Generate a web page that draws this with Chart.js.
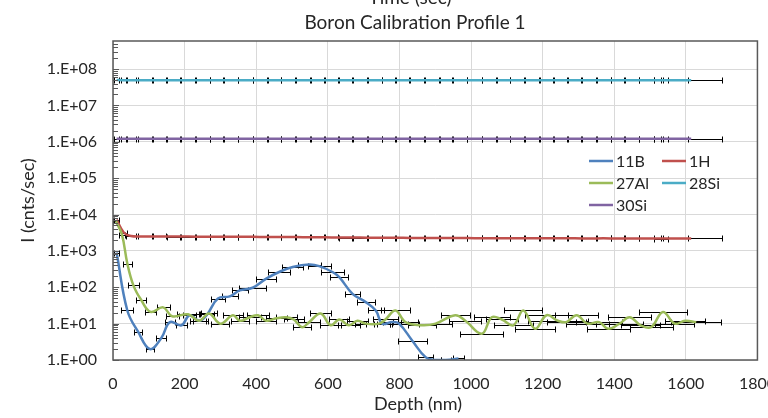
<!DOCTYPE html>
<html lang="en">
<head>
<meta charset="UTF-8">
<title>Boron Calibration Profile 1</title>
<script src="https://cdn.jsdelivr.net/npm/chart.js"></script>
<style>
  html, body { margin: 0; padding: 0; background: white; overflow: hidden; }
  #profileChart { display: block; }
</style>
</head>
<body>
<canvas id="profileChart" width="790" height="418"></canvas>
<script>
// matrix signals (1H, 28Si, 30Si) share one depth grid, nm
const matrixDepth = [10, 30, 50, 90, 130, 170, 210, 250, 290, 330, 370, 410, 450, 490, 530, 570, 610, 650, 690, 730, 770,
                     810, 850, 890, 930, 970, 1010, 1050, 1090, 1130, 1170, 1210, 1250, 1290, 1330, 1370, 1410, 1450, 1490, 1530, 1570, 1615];
const h1 = [7200, 3200, 2550, 2500, 2500, 2480, 2470, 2460, 2450, 2440, 2440, 2420, 2400, 2400, 2380, 2360, 2350, 2330, 2320, 2300, 2300,
            2280, 2270, 2260, 2250, 2250, 2240, 2240, 2230, 2230, 2220, 2220, 2210, 2210, 2200, 2210, 2200, 2200, 2200, 2190, 2200, 2200];
const si28 = [5.0e7, 4.9e7, 4.9e7, 4.9e7, 4.9e7, 4.9e7, 4.9e7, 4.9e7, 4.9e7, 4.9e7, 4.9e7, 4.9e7, 4.9e7, 4.9e7, 4.9e7, 4.9e7, 4.9e7, 4.9e7, 4.9e7, 4.9e7, 4.9e7,
              4.9e7, 4.9e7, 4.9e7, 4.9e7, 4.9e7, 4.9e7, 4.9e7, 4.9e7, 4.9e7, 4.9e7, 4.9e7, 4.9e7, 4.9e7, 4.9e7, 4.9e7, 4.9e7, 4.9e7, 4.9e7, 4.9e7, 4.9e7, 4.9e7];
const si30 = [1.22e6, 1.22e6, 1.22e6, 1.22e6, 1.22e6, 1.22e6, 1.22e6, 1.22e6, 1.22e6, 1.22e6, 1.22e6, 1.22e6, 1.22e6, 1.22e6, 1.22e6, 1.22e6, 1.22e6, 1.22e6, 1.22e6, 1.22e6, 1.22e6,
              1.22e6, 1.22e6, 1.22e6, 1.22e6, 1.22e6, 1.22e6, 1.22e6, 1.22e6, 1.22e6, 1.22e6, 1.22e6, 1.22e6, 1.22e6, 1.22e6, 1.22e6, 1.22e6, 1.22e6, 1.22e6, 1.22e6, 1.22e6, 1.22e6];
// half width of the depth error bars
const matrixErr = [6, 8, 15, 20, 18, 20, 22, 20, 18, 20, 22, 20, 18, 20, 22, 20, 18, 20, 22, 20, 18,
                   20, 22, 20, 18, 20, 22, 20, 18, 20, 22, 20, 18, 20, 22, 20, 18, 20, 22, 20, 35, 85];

// 11B
const b11Depth = [10, 40, 70, 103, 135, 159, 191, 214, 242, 263, 293, 326, 354, 390, 428, 464,
                  502, 548, 576, 613, 632, 669, 706, 734, 752, 780, 799, 836, 873, 900, 930, 965];
const b11 = [900, 23, 6, 2.0, 4, 11, 9, 17, 12, 18, 49, 56, 82, 97, 173, 263,
             360, 420, 380, 263, 190, 66, 39, 23, 10, 11, 10, 3.4, 1.2, 1.0, 1.0, 1.1];
const b11Err = [8, 17, 12, 12, 14, 14, 16, 18, 18, 20, 20, 22, 22, 38, 28, 30,
                30, 32, 32, 32, 25, 20, 25, 22, 22, 25, 25, 40, 20, 15, 15, 15];

// 27Al
const al27Depth = [8, 25, 40, 57, 78, 105, 140, 165, 210, 240, 268, 300, 335, 354, 382, 405, 428, 456, 484, 505,
                   528, 548, 580, 608, 632, 659, 683, 706, 743, 761, 789, 817, 863, 901, 956, 984, 1030, 1058, 1086, 1118,
                   1146, 1179, 1211, 1243, 1266, 1295, 1325, 1358, 1383, 1415, 1443, 1474, 1503, 1536, 1569, 1598, 1629];
const al27 = [6500, 2800, 450, 113, 46, 21, 28, 16, 18, 12, 19, 10, 17, 12, 15, 17, 12, 14, 15, 13,
              8, 11, 19, 9, 13, 9, 12, 10, 10, 13, 23, 11, 9, 10, 17, 12, 5.3, 15, 13, 9,
              23, 7.2, 17, 12, 11, 17, 10, 11, 7.2, 10, 15, 9, 8, 21, 10, 12, 11];
const al27Err = [8, 8, 12, 15, 15, 15, 18, 18, 30, 25, 22, 25, 28, 25, 30, 30, 28, 30, 30, 28,
                 25, 30, 30, 30, 28, 30, 30, 30, 35, 35, 40, 35, 40, 45, 40, 45, 60, 50, 45, 55,
                 53, 55, 60, 85, 55, 60, 60, 65, 60, 65, 60, 55, 60, 66, 55, 55, 70];

const decadeTicks = [1, 10, 100, 1e3, 1e4, 1e5, 1e6, 1e7, 1e8];
const legendRows = [['11B', '1H'], ['27Al', '28Si'], ['30Si']];

const textColor = '#262626';
const axisColor = '#595959';
Chart.defaults.font.family = 'Lato';
Chart.defaults.color = textColor;

function toPoints(xs, ys) {
    return xs.map((x, i) => ({ x: x, y: ys[i] }));
}

function series(label, color, xs, ys, err, order) {
    return {
        label: label,
        data: toPoints(xs, ys),
        xErr: err,
        borderColor: color,
        backgroundColor: color,
        borderWidth: 2.5,
        pointRadius: 0,
        tension: 0.4,
        order: order
    };
}

// error bars (under the lines), minor log ticks, frame, legend and titles
const decorations = {
    id: 'decorations',
    beforeDatasetsDraw(chart) {
        const ctx = chart.ctx;
        const xs = chart.scales.x;
        const ys = chart.scales.y;
        const a = chart.chartArea;

        ctx.save();
        ctx.beginPath();
        ctx.rect(a.left, a.top, a.right - a.left, a.bottom - a.top);
        ctx.clip();
        ctx.strokeStyle = '#000';
        ctx.lineWidth = 1;
        chart.data.datasets.forEach(ds => {
            ds.data.forEach((p, i) => {
                const e = ds.xErr[i];
                const py = Math.round(ys.getPixelForValue(p.y)) + 0.5;
                const x0 = Math.round(xs.getPixelForValue(p.x - e)) + 0.5;
                const x1 = Math.round(xs.getPixelForValue(p.x + e)) + 0.5;
                ctx.beginPath();
                ctx.moveTo(x0, py); ctx.lineTo(x1, py);
                ctx.moveTo(x0, py - 3); ctx.lineTo(x0, py + 3);
                ctx.moveTo(x1, py - 3); ctx.lineTo(x1, py + 3);
                ctx.stroke();
            });
        });
        ctx.restore();
    },
    afterDatasetsDraw(chart) {
        const ctx = chart.ctx;
        const ys = chart.scales.y;
        const a = chart.chartArea;

        // minor ticks along the log axis
        ctx.save();
        ctx.strokeStyle = axisColor;
        ctx.lineWidth = 1;
        decadeTicks.forEach(d => {
            for (let m = 1; m <= 9; m++) {
                const v = d * m;
                if (v > ys.max) continue;
                const py = Math.round(ys.getPixelForValue(v)) + 0.5;
                ctx.beginPath();
                ctx.moveTo(a.left, py);
                ctx.lineTo(a.left + (m === 1 ? 6 : 5), py);
                ctx.stroke();
            }
        });
        ctx.lineWidth = 1.5;
        ctx.strokeRect(a.left, a.top, a.right - a.left, a.bottom - a.top);
        ctx.restore();
    },
    afterDraw(chart) {
        const ctx = chart.ctx;
        const byLabel = {};
        chart.data.datasets.forEach(ds => { byLabel[ds.label] = ds.borderColor; });

        ctx.save();
        ctx.font = '16px Lato';
        ctx.textBaseline = 'middle';
        ctx.textAlign = 'left';
        const rowY = [161, 183, 205];
        const colX = [589, 662];
        legendRows.forEach((row, r) => {
            row.forEach((label, c) => {
                ctx.strokeStyle = byLabel[label];
                ctx.lineWidth = 2.5;
                ctx.beginPath();
                ctx.moveTo(colX[c], rowY[r]);
                ctx.lineTo(colX[c] + 24, rowY[r]);
                ctx.stroke();
                ctx.fillStyle = textColor;
                ctx.fillText(label, colX[c] + 27, rowY[r] + 1);
            });
        });

        ctx.textAlign = 'center';
        ctx.font = '19px Lato';
        ctx.fillText('Boron Calibration Profile 1', 415, 23);
        ctx.textBaseline = 'alphabetic';
        ctx.fillText('Time (sec)', 410, 4);
        ctx.textBaseline = 'middle';
        ctx.font = '18px Lato';
        ctx.fillText('Depth (nm)', 418, 404);
        ctx.restore();
    }
};

const ctx = document.getElementById('profileChart').getContext('2d');
new Chart(ctx, {
    type: 'line',
    data: {
        datasets: [
            series('11B', '#4F81BD', b11Depth, b11, b11Err, 5),
            series('1H', '#C0504D', matrixDepth, h1, matrixErr, 4),
            series('27Al', '#9BBB59', al27Depth, al27, al27Err, 3),
            series('28Si', '#4BACC6', matrixDepth, si28, matrixErr, 2),
            series('30Si', '#8064A2', matrixDepth, si30, matrixErr, 1)
        ]
    },
    options: {
        responsive: false,
        animation: false,
        layout: { padding: { top: 41, right: 30, left: 0, bottom: 0 } },
        plugins: {
            legend: { display: false },
            title: { display: false },
            tooltip: { enabled: false }
        },
        scales: {
            x: {
                type: 'linear',
                min: 0,
                max: 1800,
                ticks: {
                    stepSize: 200,
                    padding: 14,
                    font: { size: 16 },
                    color: textColor,
                    callback: v => String(v)
                },
                grid: { color: '#d9d9d9', drawTicks: false },
                border: { display: false },
                afterFit(scale) { scale.height = 58; }
            },
            y: {
                type: 'logarithmic',
                min: 1,
                max: 5.9e8,
                afterBuildTicks(scale) {
                    scale.ticks = decadeTicks.map(v => ({ value: v }));
                },
                ticks: {
                    padding: 16,
                    font: { size: 16 },
                    color: textColor,
                    callback: v => '1.E+' + String(Math.round(Math.log10(v))).padStart(2, '0')
                },
                grid: { color: '#d9d9d9', drawTicks: false },
                border: { display: false },
                title: {
                    display: true,
                    text: 'I (cnts/sec)',
                    font: { size: 18 },
                    color: textColor,
                    padding: { top: 17, bottom: 0 }
                },
                afterFit(scale) { scale.width = 113; }
            }
        }
    },
    plugins: [decorations]
});
</script>
</body>
</html>
